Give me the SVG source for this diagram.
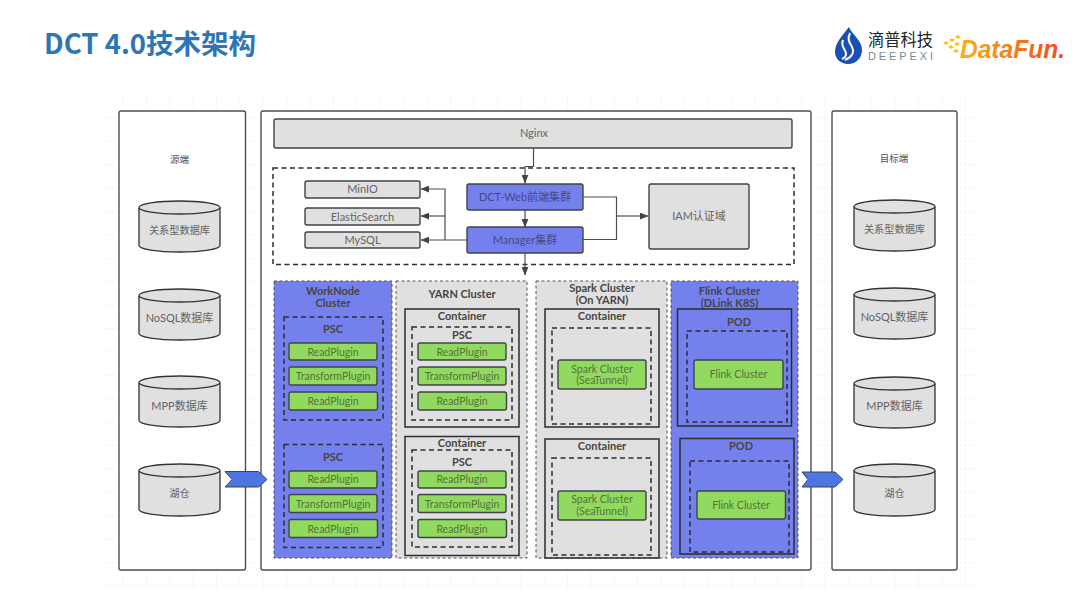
<svg xmlns="http://www.w3.org/2000/svg" width="1080" height="608" viewBox="0 0 1080 608">
<style>
text{font-family:"Lato","Noto Sans CJK SC",sans-serif;text-anchor:middle;fill:#646464;font-size:11px}
.b{font-weight:700;fill:#454545;font-size:11px}
.p{fill:#527439;font-size:10.500px}
.v{fill:#444a88;font-size:11px}
.pane{fill:#fff;stroke:#4a4f55;stroke-width:1.4}
.gray{fill:#e0e0e0;stroke:#3f444a;stroke-width:1.4}
.blue{fill:#7480ec;stroke:#3f444a;stroke-width:1.4}
.green{fill:#92d95f;stroke:#3f444a;stroke-width:1.4}
.bd{fill:#e0e0e0;stroke:#555;stroke-width:1;stroke-dasharray:3 2.5}
.bb{fill:#7480ec;stroke:#555;stroke-width:1;stroke-dasharray:3 2.5}
.dash{fill:none;stroke:#2a2d31;stroke-width:1.5;stroke-dasharray:5 3.5}
.box{fill:none;stroke:#2a2d31;stroke-width:1.5}
.cyl{fill:#e0e0e0;stroke:#2f3338;stroke-width:1.3}
.cn{fill:none;stroke:#4a4f55;stroke-width:1.2}
.chev{fill:#4f74e3;stroke:#3f4450;stroke-width:1}
</style>
<defs>
<pattern id="grid" width="23.4" height="23.4" patternUnits="userSpaceOnUse" x="100" y="95">
<path d="M23.4 0V23.4M0 23.4H23.4" fill="none" stroke="#f0f0f0" stroke-width="1"/>
</pattern>
<marker id="ah" viewBox="0 0 10 8" refX="9.5" refY="4" markerWidth="9" markerHeight="7" markerUnits="userSpaceOnUse" orient="auto"><path d="M0 0L10 4L0 8Z" fill="#3f444a"/></marker>
<linearGradient id="fun" gradientUnits="userSpaceOnUse" x1="960" x2="1065" y1="0" y2="0"><stop offset="0" stop-color="#f9b111"/><stop offset="1" stop-color="#f4481e"/></linearGradient>
</defs>
<rect width="1080" height="608" fill="#fff"/>
<rect x="100" y="95" width="880" height="495" fill="url(#grid)"/>

<text x="44" y="54" style="font-family:'Noto Sans CJK SC','Noto Sans',sans-serif;font-size:27.500px;font-weight:700;text-anchor:start;fill:#2e75b6">DCT 4.0技术架构</text>

<g id="logo-deepexi">
<path d="M849 27C842 36 835 43 835 52C835 59 841 64 848 64C856 64 862 58 862 50C862 40 853 36 849 27Z" fill="#1b4fb5"/>
<path d="M850 33C846 42 852 44 853 50C854 54 850 58 845 60" fill="none" stroke="#fff" stroke-width="2"/>
<path d="M843 40C840 47 846 49 846 54C846 56 844 58 842 59" fill="none" stroke="#fff" stroke-width="2"/>
<text x="868" y="46" textLength="65" lengthAdjust="spacingAndGlyphs" style="font-family:'Noto Sans CJK SC',sans-serif;font-size:16.500px;text-anchor:start;fill:#222">滴普科技</text>
<text x="868" y="60" textLength="65" style="font-family:'Liberation Sans',sans-serif;font-size:11px;text-anchor:start;fill:#7c8a96">DEEPEXI</text>
</g>
<g id="logo-datafun">
<path d="M943 43l3-2 3 2-3 2zM949 40l3-2 3 2-3 2zM955 37l3-2 3 2-3 2zM948 47l3-2 3 2-3 2zM954 44l3-2 3 2-3 2zM953 51l3-2 3 2-3 2z" fill="#f9c320"/>
<text x="960" y="58" textLength="105" lengthAdjust="spacingAndGlyphs" style="font-family:'Liberation Sans',sans-serif;font-size:26px;font-weight:700;font-style:italic;text-anchor:start;fill:url(#fun)">DataFun.</text>
</g>

<g id="source">
<rect class="pane" x="119" y="111" width="126.500" height="459" rx="2"/>
<text x="179.500" y="163" style="font-size:9.500px;fill:#555">源端</text>
</g>
<g id="main"><rect class="pane" x="261" y="111" width="550" height="459" rx="2"/></g>
<g id="target">
<rect class="pane" x="832" y="111" width="125" height="459" rx="2"/>
<text x="894" y="162" style="font-size:9.500px;fill:#555">目标端</text>
</g>

<g id="s1"><path class="cyl" d="M139 207.500A40.500 6.500 0 0 1 220 207.500V245.500A40.500 6.500 0 0 1 139 245.500Z"/><path class="cyl" d="M139 207.500A40.500 6.500 0 0 0 220 207.500" fill="none"/><text x="179.500" y="234" style="font-size:10.200px">关系型数据库</text></g>
<g id="s2"><path class="cyl" d="M139 295.500A40.500 6.500 0 0 1 220 295.500V333.500A40.500 6.500 0 0 1 139 333.500Z"/><path class="cyl" d="M139 295.500A40.500 6.500 0 0 0 220 295.500" fill="none"/><text x="179.500" y="322">NoSQL数据库</text></g>
<g id="s3"><path class="cyl" d="M139 382.500A40.500 6.500 0 0 1 220 382.500V420.500A40.500 6.500 0 0 1 139 420.500Z"/><path class="cyl" d="M139 382.500A40.500 6.500 0 0 0 220 382.500" fill="none"/><text x="179.500" y="410">MPP数据库</text></g>
<g id="s4"><path class="cyl" d="M139 470.500A40.500 6.500 0 0 1 220 470.500V509.500A40.500 6.500 0 0 1 139 509.500Z"/><path class="cyl" d="M139 470.500A40.500 6.500 0 0 0 220 470.500" fill="none"/><text x="179.500" y="497" style="font-size:10.200px">湖仓</text></g>

<g id="t1"><path class="cyl" d="M854 206.500A40.500 6.500 0 0 1 935 206.500V244.500A40.500 6.500 0 0 1 854 244.500Z"/><path class="cyl" d="M854 206.500A40.500 6.500 0 0 0 935 206.500" fill="none"/><text x="894.500" y="233" style="font-size:10.200px">关系型数据库</text></g>
<g id="t2"><path class="cyl" d="M854 294.500A40.500 6.500 0 0 1 935 294.500V332.500A40.500 6.500 0 0 1 854 332.500Z"/><path class="cyl" d="M854 294.500A40.500 6.500 0 0 0 935 294.500" fill="none"/><text x="894.500" y="321">NoSQL数据库</text></g>
<g id="t3"><path class="cyl" d="M854 383.500A40.500 6.500 0 0 1 935 383.500V421.500A40.500 6.500 0 0 1 854 421.500Z"/><path class="cyl" d="M854 383.500A40.500 6.500 0 0 0 935 383.500" fill="none"/><text x="894.500" y="410">MPP数据库</text></g>
<g id="t4"><path class="cyl" d="M854 470.500A40.500 6.500 0 0 1 935 470.500V509.500A40.500 6.500 0 0 1 854 509.500Z"/><path class="cyl" d="M854 470.500A40.500 6.500 0 0 0 935 470.500" fill="none"/><text x="894.500" y="497" style="font-size:10.200px">湖仓</text></g>

<g id="nginx"><rect class="gray" x="274" y="119" width="518" height="29" rx="2"/><text x="534" y="137">Nginx</text></g>
<rect class="dash" x="273" y="168" width="521" height="96.500"/>
<g id="minio"><rect class="gray" x="305" y="181" width="115" height="17" rx="2"/><text x="362.500" y="193">MinIO</text></g>
<g id="es"><rect class="gray" x="305" y="208" width="115" height="17" rx="2"/><text x="362.500" y="220.500">ElasticSearch</text></g>
<g id="mysql"><rect class="gray" x="305" y="232" width="115" height="16" rx="2"/><text x="362.500" y="244">MySQL</text></g>
<g id="web"><rect class="blue" x="467" y="184" width="116" height="26" rx="2"/><text class="v" x="525" y="201">DCT-Web前端集群</text></g>
<g id="manager"><rect class="blue" x="467" y="227" width="116" height="26" rx="2"/><text class="v" x="525" y="244">Manager集群</text></g>
<g id="iam"><rect class="gray" x="649" y="184" width="100" height="65" rx="2"/><text x="699" y="220">IAM认证域</text></g>

<g id="connectors">
<path class="cn" d="M533.500 148V166.500H525V183" marker-end="url(#ah)"/>
<path class="cn" d="M525 210V227" marker-end="url(#ah)"/>
<path class="cn" d="M525 253V275" marker-end="url(#ah)"/>
<path class="cn" d="M467 240H421" marker-end="url(#ah)"/>
<path class="cn" d="M445 240V189H421" marker-end="url(#ah)"/>
<path class="cn" d="M445 216H421" marker-end="url(#ah)"/>
<path class="cn" d="M583 197H616.500V239.500H583"/>
<path class="cn" d="M616.500 216H648" marker-end="url(#ah)"/>
</g>

<g id="worknode">
<rect class="bb" x="274" y="281" width="118" height="277"/>
<text class="b" x="333" y="295">WorkNode</text><text class="b" x="333" y="307">Cluster</text>
<rect class="dash" x="284" y="317" width="99" height="103"/><text class="b" x="333" y="333">PSC</text>
<rect class="green" x="289" y="343" width="88" height="17" rx="2"/><text class="p" x="333" y="355.500">ReadPlugin</text>
<rect class="green" x="289" y="367" width="88" height="18" rx="2"/><text class="p" x="333" y="380">TransformPlugin</text>
<rect class="green" x="289" y="392" width="88.500" height="18" rx="2"/><text class="p" x="333" y="405">ReadPlugin</text>
<rect class="dash" x="284" y="444.500" width="99" height="103"/><text class="b" x="333" y="461">PSC</text>
<rect class="green" x="289" y="471" width="88" height="17" rx="2"/><text class="p" x="333" y="483">ReadPlugin</text>
<rect class="green" x="289" y="494.500" width="88" height="18" rx="2"/><text class="p" x="333" y="507.500">TransformPlugin</text>
<rect class="green" x="289" y="519.500" width="88.500" height="18" rx="2"/><text class="p" x="333" y="532.500">ReadPlugin</text>
</g>
<g id="yarn">
<rect class="bd" x="396" y="281" width="131" height="277"/>
<text class="b" x="462" y="298">YARN Cluster</text>
<rect class="box" x="405" y="309" width="114" height="118"/><text class="b" x="462" y="319.500">Container</text>
<rect class="dash" x="412" y="327" width="100" height="93"/><text class="b" x="462" y="339">PSC</text>
<rect class="green" x="418" y="343" width="88" height="17" rx="2"/><text class="p" x="462" y="355.500">ReadPlugin</text>
<rect class="green" x="418" y="367" width="88" height="18" rx="2"/><text class="p" x="462" y="380">TransformPlugin</text>
<rect class="green" x="418" y="392" width="88.500" height="18" rx="2"/><text class="p" x="462" y="405">ReadPlugin</text>
<rect class="box" x="405" y="436.500" width="114" height="119"/><text class="b" x="462" y="447">Container</text>
<rect class="dash" x="412" y="450" width="100" height="97"/><text class="b" x="462" y="466">PSC</text>
<rect class="green" x="418" y="471" width="88" height="17" rx="2"/><text class="p" x="462" y="483">ReadPlugin</text>
<rect class="green" x="418" y="494.500" width="88" height="18" rx="2"/><text class="p" x="462" y="507.500">TransformPlugin</text>
<rect class="green" x="418" y="519.500" width="88.500" height="18" rx="2"/><text class="p" x="462" y="532.500">ReadPlugin</text>
</g>
<g id="spark">
<rect class="bd" x="536" y="281" width="131" height="277"/>
<text class="b" x="602" y="292">Spark Cluster</text><text class="b" x="602" y="304">(On YARN)</text>
<rect class="box" x="545" y="309" width="114" height="118"/><text class="b" x="602" y="319.500">Container</text>
<rect class="dash" x="552" y="328" width="99" height="96"/>
<rect class="green" x="558" y="360" width="88" height="29" rx="2"/><text class="p" x="602" y="372.500">Spark Cluster</text><text class="p" x="602" y="384">(SeaTunnel)</text>
<rect class="box" x="545" y="439" width="114" height="119"/><text class="b" x="602" y="450">Container</text>
<rect class="dash" x="552" y="458" width="99" height="97"/>
<rect class="green" x="558" y="491" width="88" height="29" rx="2"/><text class="p" x="602" y="503">Spark Cluster</text><text class="p" x="602" y="514.500">(SeaTunnel)</text>
</g>
<g id="flink">
<rect class="bb" x="671" y="281" width="127" height="277"/>
<text class="b" x="729.500" y="295">Flink Cluster</text><text class="b" x="729.500" y="307">(DLink K8S)</text>
<rect class="box" x="677.500" y="309" width="114" height="117"/><text class="b" x="739" y="326">POD</text>
<rect class="dash" x="687" y="331" width="100" height="91"/>
<rect class="green" x="694" y="360" width="89" height="29" rx="2"/><text class="p" x="738.500" y="378">Flink Cluster</text>
<rect class="box" x="680" y="438.500" width="114" height="115.500"/><text class="b" x="741" y="450">POD</text>
<rect class="dash" x="690" y="461" width="99" height="91"/>
<rect class="green" x="697" y="491" width="88.500" height="28" rx="2"/><text class="p" x="741" y="508.500">Flink Cluster</text>
</g>

<g id="flow-arrows">
<path class="chev" d="M225 471.500H258.500L267 479.500L258.500 487H225L232 479.500Z"/>
<path class="chev" d="M802 472H835L843 479.500L835 487H802L808 479.500Z"/>
</g>
</svg>
